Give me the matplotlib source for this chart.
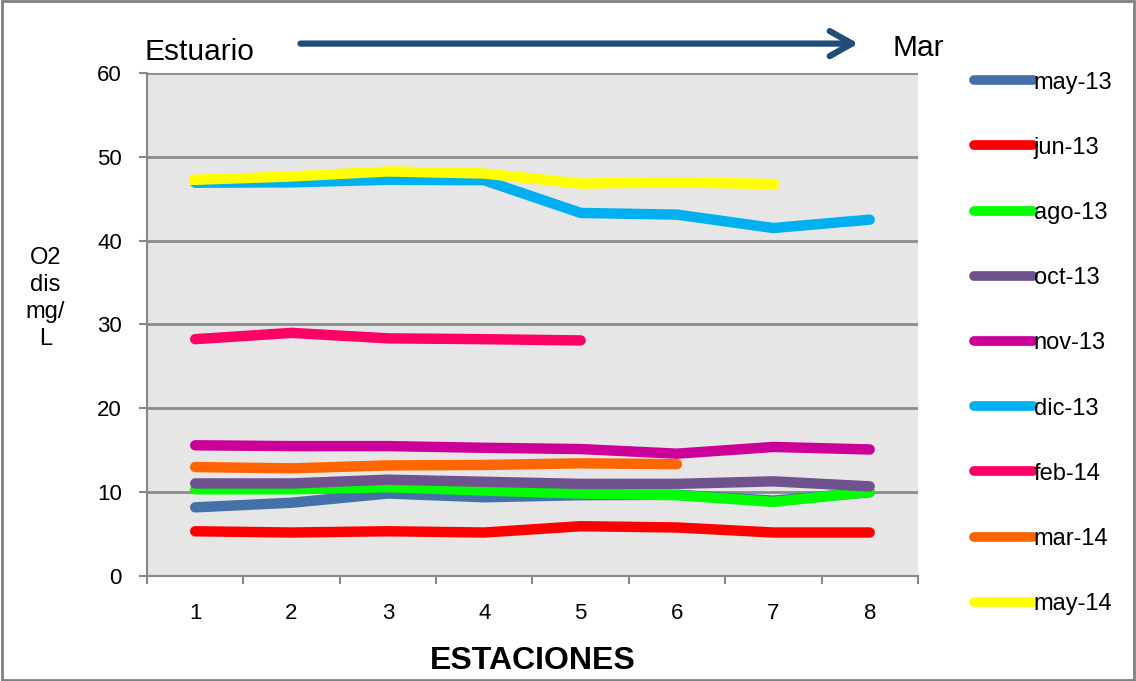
import matplotlib.pyplot as plt
import numpy as np

plt.rcParams['font.family'] = ['Liberation Sans', 'DejaVu Sans']

estaciones = [1, 2, 3, 4, 5, 6, 7, 8]
etiquetas = ["may-13", "jun-13", "ago-13", "oct-13", "nov-13",
             "dic-13", "feb-14", "mar-14", "may-14"]
colores = ["#4472A8", "#FF0000", "#00FF00", "#70528E", "#CC0099",
           "#00B0F0", "#FF0066", "#FF6600", "#FFFF00"]

may13 = [8.2, 8.75, 9.85, 9.4, 9.65, 9.7, 9.0, 10.0]
jun13 = [5.35, 5.2, 5.35, 5.2, 5.95, 5.8, 5.2, 5.2]
ago13 = [10.35, 10.35, 10.6, 10.2, 9.85, 9.65, 8.85, 10.05]
oct13 = [11.05, 11.05, 11.5, 11.25, 11.0, 11.0, 11.3, 10.7]
nov13 = [15.6, 15.5, 15.5, 15.3, 15.15, 14.6, 15.4, 15.1]
dic13 = [46.9, 46.95, 47.25, 47.2, 43.3, 43.1, 41.5, 42.5]
feb14 = [28.25, 29.0, 28.35, 28.25, 28.1]
mar14 = [13.0, 12.85, 13.2, 13.25, 13.45, 13.35]
may14 = [47.25, 47.65, 48.25, 48.0, 46.8, 46.95, 46.75]

series = [may13, jun13, ago13, oct13, nov13, dic13, feb14, mar14, may14]

fig = plt.figure(figsize=(11.36, 6.81), dpi=100)
ax = fig.add_axes([0.1294, 0.154, 0.6786, 0.739])
ax.set_facecolor("#E6E6E6")

for vals, lab, col in zip(series, etiquetas, colores):
    cap = "projecting" if lab == "may-14" else "round"
    ax.plot(estaciones[:len(vals)], vals, color=col, lw=7.5, label=lab,
            solid_capstyle=cap, solid_joinstyle="round")

ax.set_xlim(0.5, 8.5)
ax.set_ylim(0, 60)
ax.set_yticks(range(0, 61, 10))
ax.set_xticks(estaciones)
ax.set_xticks(np.arange(0.5, 8.6, 1), minor=True)
ax.tick_params(axis="x", which="major", length=0, labelsize=16, pad=19)
ax.tick_params(axis="x", which="minor", length=6, width=1.5, color="#888888", direction="out")
ax.tick_params(axis="y", length=6, width=1.5, color="#888888", labelsize=16, pad=12)
ax.yaxis.grid(True, color="#8C8C8C", lw=2)
ax.set_axisbelow(True)
for s in ["top", "right"]:
    ax.spines[s].set_visible(False)
for s in ["left", "bottom"]:
    ax.spines[s].set_color("#888888")
    ax.spines[s].set_linewidth(1.5)

ax.set_xlabel("ESTACIONES", fontsize=23, fontweight="bold", labelpad=16)
fig.text(0.040, 0.562, "O2\ndis\nmg/\nL", fontsize=17, ha="center", va="center",
         linespacing=1.3)

# flecha Estuario -> Mar
fig.text(0.127, 0.923, "Estuario", fontsize=21.5, ha="left", va="center")
fig.text(0.786, 0.929, "Mar", fontsize=21.5, ha="left", va="center")
ax.annotate("", xy=(0.758, 0.936), xytext=(0.262, 0.936), xycoords="figure fraction",
            arrowprops=dict(arrowstyle="->,head_length=1.6,head_width=0.9",
                            color="#1F4E79", lw=4.5))

leg = ax.legend(loc="upper left", bbox_to_anchor=(0.857, 0.895),
                bbox_transform=fig.transFigure, frameon=False, fontsize=17,
                handlelength=2.5, handletextpad=0.05, labelspacing=1.83,
                borderpad=0, borderaxespad=0)
for h in leg.get_lines():
    h.set_solid_capstyle("round")
    h.set_linewidth(7)

fig.patches.append(plt.Rectangle((0.002, 0.002), 0.996, 0.996, transform=fig.transFigure,
                                 fill=False, edgecolor="#808080", lw=2))

fig.savefig("out.png", dpi=100)
